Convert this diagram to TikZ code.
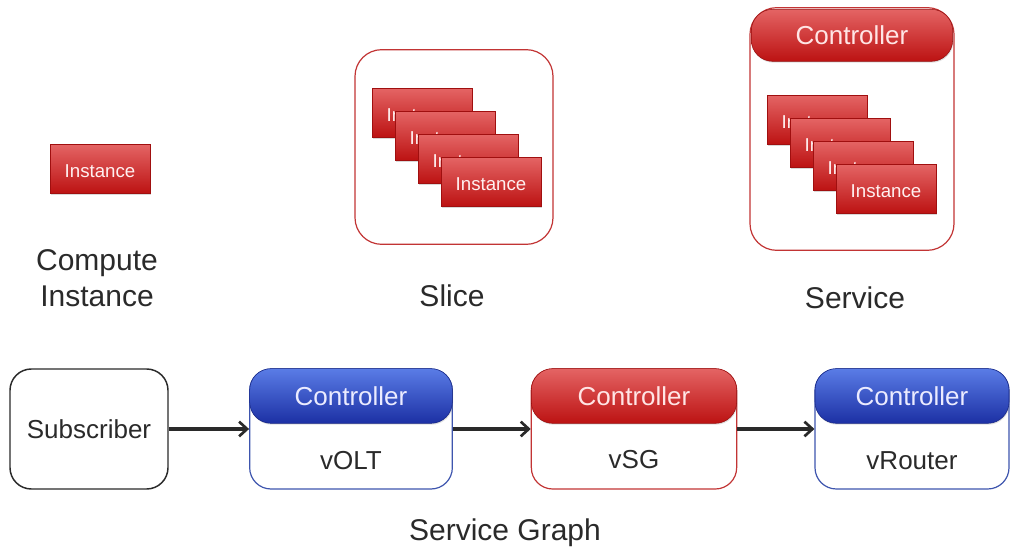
\documentclass[tikz,border=0pt]{standalone}
\usepackage{fontspec}
\setmainfont{Liberation Sans}
\usetikzlibrary{arrows.meta,positioning,calc,shadows}
\definecolor{xredlt}{HTML}{E46464}
\definecolor{xreddk}{HTML}{BC1212}
\definecolor{xredln}{HTML}{C23434}
\definecolor{xbluelt}{HTML}{5A7CE6}
\definecolor{xbluedk}{HTML}{1C30A4}
\definecolor{xblueln}{HTML}{3E55AE}
\definecolor{xgray}{HTML}{2A2A2A}

\begin{document}
\begin{tikzpicture}[x=0.75pt, y=-0.75pt,
  inst/.style={draw=xreddk!85!black, top color=xredlt, bottom color=xreddk,
               minimum width=75pt, minimum height=37pt, inner sep=0pt,
               text=red!6, font=\fontsize{14}{16}\selectfont,
               text height=13pt, text depth=0pt,
               drop shadow={opacity=0.3, shadow xshift=0.6pt, shadow yshift=-0.9pt}},
  frame/.style={draw=#1, line width=0.9pt, rounded corners=16pt, fill=white,
                inner sep=0pt, minimum height=90pt},
  ctl/.style={draw=#1dk!80!black, top color=#1lt, bottom color=#1dk,
              rounded corners=16pt, minimum height=41pt, inner sep=0pt, anchor=north,
              font=\fontsize{19.5}{22}\selectfont,
              drop shadow={opacity=0.25, shadow xshift=0.5pt, shadow yshift=-1pt}},
  lbl/.style={font=\fontsize{22.5}{27}\selectfont, align=center, text=xgray},
  boxlbl/.style={font=\fontsize{19.5}{22}\selectfont, text=xgray},
  arr/.style={-{Straight Barb[length=6pt, width=11pt, line width=2pt]}, line width=2.3pt, xgray}
]
\useasboundingbox (0,0) rectangle (1010,548);

% compute instance
\node[inst] (ci) at (100,169) {Instance};
\node[lbl] (cilbl) at (97,278) {Compute\\Instance};

% slice
\node[frame=xredln, rounded corners=20pt, minimum width=148.5pt, minimum height=146pt] (slice) at (454,147) {};
\foreach \i in {1,...,4}
  \node[inst] (sl\i) at ({422+23*(\i-1)},{113+23*(\i-1)}) {Instance};
\node[lbl] (slicelbl) at (452,296) {Slice};

% service
\node[frame=xredln, rounded corners=20pt, minimum width=153pt, minimum height=182pt] (svc) at (852,129) {};
\node[ctl=xred, text=red!10, minimum width=151pt, minimum height=39pt] (svcctl) at ([yshift=-1.5pt]svc.north) {Controller};
\foreach \i in {1,...,4}
  \node[inst] (sv\i) at ({817+23*(\i-1)},{120+23*(\i-1)}) {Instance};
\node[lbl] (svclbl) at (855,298) {Service};

% service graph
\node[frame=xgray, line width=1.1pt, minimum width=118.5pt] (sub) at (89,429) {};
\node[boxlbl] at (sub) {Subscriber};

\node[frame=xblueln, minimum width=152pt] (volt) at (351,429) {};
\node[ctl=xblue, text=blue!8, minimum width=152pt] (voltctl) at (volt.north) {Controller};
\node[boxlbl, yshift=-3pt] (voltlbl) at ($(voltctl.south)!0.5!(volt.south)$) {vOLT};

\node[frame=xredln, minimum width=154pt] (vsg) at (634,429) {};
\node[ctl=xred, text=red!10, minimum width=154pt] (vsgctl) at (vsg.north) {Controller};
\node[boxlbl, yshift=-2pt] (vsglbl) at ($(vsgctl.south)!0.5!(vsg.south)$) {vSG};

\node[frame=xblueln, minimum width=145.5pt] (vrouter) at (912,429) {};
\node[ctl=xblue, text=blue!8, minimum width=145.5pt] (vrouterctl) at (vrouter.north) {Controller};
\node[boxlbl, yshift=-3pt] (vrouterlbl) at ($(vrouterctl.south)!0.5!(vrouter.south)$) {vRouter};

\draw[arr] (sub) -- (volt);
\draw[arr] (volt) -- (vsg);
\draw[arr] (vsg) -- (vrouter);

\node[lbl] (sglbl) at (505,533) {Service Graph};
\end{tikzpicture}
\end{document}
